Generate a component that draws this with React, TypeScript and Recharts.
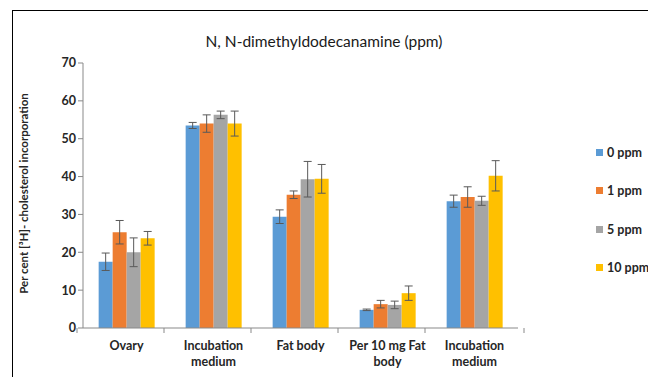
import * as React from "react";
import { BarChart, Bar, XAxis, YAxis, Legend, ErrorBar } from "recharts";

const categories = ["Ovary", "Incubation\nmedium", "Fat body", "Per 10 mg Fat\nbody", "Incubation\nmedium"];
const seriesNames = ["0 ppm", "1 ppm", "5 ppm", "10 ppm"];
const colors = ["#5B9BD5", "#ED7D31", "#A5A5A5", "#FFC000"];

const ppm0 = [17.5, 53.5, 29.4, 4.8, 33.5];
const ppm1 = [25.3, 54.0, 35.2, 6.3, 34.6];
const ppm5 = [20.0, 56.3, 39.3, 6.1, 33.6];
const ppm10 = [23.7, 54.0, 39.4, 9.2, 40.2];

const err0 = [2.3, 0.8, 1.8, 0.2, 1.6];
const err1 = [3.1, 2.3, 1.0, 1.0, 2.7];
const err5 = [3.8, 1.0, 4.7, 1.0, 1.2];
const err10 = [1.8, 3.3, 3.8, 1.9, 4.0];

const yTicks = [0, 10, 20, 30, 40, 50, 60, 70];

const values = [ppm0, ppm1, ppm5, ppm10];
const errors = [err0, err1, err5, err10];

const data = categories.map((name, i) => {
  const row: Record<string, number | string> = { name };
  seriesNames.forEach((s, j) => {
    row[s] = values[j][i];
    row["err" + j] = errors[j][i];
  });
  return row;
});

const FONT = "Lato, 'Open Sans', sans-serif";
const BAND = 99;

const CategoryTick = (props: any) => {
  const { x, y, payload, index } = props;
  const lines = String(payload.value).split("\n");
  const left = x - BAND / 2;
  return (
    <g>
      <line x1={left} y1={y - 8} x2={left} y2={y - 3} stroke="#898989" />
      {index === categories.length - 1 && (
        <line x1={left + BAND} y1={y - 8} x2={left + BAND} y2={y - 3} stroke="#898989" />
      )}
      <text x={x} y={y + 14} textAnchor="middle" fontFamily={FONT} fontSize={12.5} fontWeight="bold" fill="#262626">
        {lines.map((l, k) => (
          <tspan key={k} x={x} dy={k === 0 ? 0 : 16}>
            {l}
          </tspan>
        ))}
      </text>
    </g>
  );
};

const YLabel = (props: any) => {
  const vb = props.viewBox || {};
  const cy = (vb.y ?? 63) + (vb.height ?? 265) / 2 - 2;
  const cx = 28;
  return (
    <text
      x={cx}
      y={cy}
      transform={`rotate(-90, ${cx}, ${cy})`}
      textAnchor="middle"
      fontFamily={FONT}
      fontSize={11.5}
      fontWeight="bold"
      fill="#262626"
    >
      Per cent  [³H]- cholesterol incorporation
    </text>
  );
};

const LegendBox = () => (
  <div style={{ fontFamily: FONT }}>
    {seriesNames.map((s, i) => (
      <div key={s} style={{ display: "flex", alignItems: "center", height: 38.5 }}>
        <span style={{ width: 7, height: 7, background: colors[i], marginRight: 4 }} />
        <span style={{ fontSize: 12.5, fontWeight: "bold", color: "#262626" }}>{s}</span>
      </div>
    ))}
  </div>
);

export default function App() {
  return (
    <div style={{ position: "relative", width: 656, height: 385, margin: -8, background: "#fff" }}>
      <div
        style={{
          position: "absolute",
          left: 12,
          top: 10,
          width: 644,
          height: 375,
          borderTop: "1.5px solid #000",
          borderLeft: "1.5px solid #000",
          boxSizing: "border-box",
        }}
      />
      <div
        style={{
          position: "absolute",
          left: 0,
          top: 32,
          width: 648,
          textAlign: "center",
          fontFamily: FONT,
          fontSize: 15.5,
          color: "#1a1a1a",
        }}
      >
        N, N-dimethyldodecanamine (ppm)
      </div>
      <BarChart
        width={656}
        height={385}
        data={data}
        margin={{ top: 63, right: 78, bottom: 12, left: 0 }}
        barCategoryGap="18%"
        barGap={0}
        style={{ position: "absolute", left: 0, top: 0 }}
      >
        <XAxis
          dataKey="name"
          height={45}
          tick={<CategoryTick />}
          tickLine={false}
          axisLine={{ stroke: "#898989" }}
          interval={0}
        />
        <YAxis
          width={83}
          domain={[0, 70]}
          ticks={yTicks}
          interval={0}
          axisLine={{ stroke: "#898989" }}
          tickLine={{ stroke: "#898989" }}
          tickSize={5}
          tick={{ fontFamily: FONT, fontSize: 12.5, fontWeight: "bold", fill: "#262626" }}
          label={<YLabel />}
        />
        <Legend
          layout="vertical"
          align="right"
          verticalAlign="top"
          content={<LegendBox />}
          wrapperStyle={{ left: 596, top: 133, width: 60 }}
        />
        {seriesNames.map((s, j) => (
          <Bar key={s} dataKey={s} fill={colors[j]} isAnimationActive={false}>
            <ErrorBar dataKey={"err" + j} width={4} stroke="#595959" strokeWidth={1} />
          </Bar>
        ))}
      </BarChart>
    </div>
  );
}
